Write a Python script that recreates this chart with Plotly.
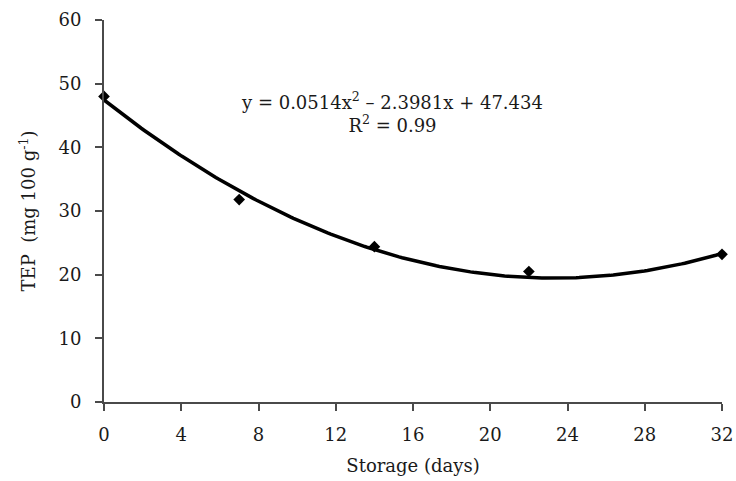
import numpy as np
import plotly.graph_objects as go

# Storage time (days) and measured TEP (mg 100 g-1)
storage_days = [0, 7, 14, 22, 32]
tep_values = [48.0, 31.8, 24.4, 20.5, 23.2]

# Quadratic trend coefficients: y = a*x^2 + b*x + c
coef_a = 0.0514
coef_b = -2.3981
coef_c = 47.434
r_squared = 0.99

x_ticks = [0, 4, 8, 12, 16, 20, 24, 28, 32]
y_ticks = [0, 10, 20, 30, 40, 50, 60]

font_family = "DejaVu Serif, Liberation Serif, serif"
text_color = "#1a1a1a"

x_fit = np.linspace(min(storage_days), max(storage_days), 200)
y_fit = coef_a * x_fit**2 + coef_b * x_fit + coef_c

fig = go.Figure()
fig.add_trace(go.Scatter(
    x=x_fit, y=y_fit, mode="lines",
    line=dict(color="black", width=3.5),
    showlegend=False, hoverinfo="skip", cliponaxis=False,
))
fig.add_trace(go.Scatter(
    x=storage_days, y=tep_values, mode="markers",
    marker=dict(symbol="diamond", size=9, color="black"),
    showlegend=False, cliponaxis=False,
))

fig.add_annotation(
    x=0.466, y=1.0, xref="paper", yref="paper",
    xanchor="center", yanchor="top", yshift=-67,
    text=(f"y = {coef_a}x<sup>2</sup> – {abs(coef_b)}x + {coef_c}"
          f"<br>R<sup>2</sup> = {r_squared}"),
    showarrow=False, align="center",
    font=dict(family=font_family, size=18, color=text_color),
)

axis_common = dict(
    showline=True, linecolor="#4a4a4a", linewidth=2,
    ticks="outside", ticklen=7, tickwidth=2, tickcolor="#4a4a4a",
    showgrid=False, zeroline=False, automargin=False,
    tickfont=dict(family=font_family, size=18, color=text_color),
)

fig.update_xaxes(
    range=[0, 32], tickvals=x_ticks, ticklabelstandoff=8,
    title=dict(text="Storage (days)", font=dict(family=font_family, size=18, color=text_color),
               standoff=16),
    **axis_common,
)
fig.update_yaxes(
    range=[0, 60], tickvals=y_ticks, ticklabelstandoff=10,
    title=dict(text="TEP  (mg 100 g<sup>-1</sup>)",
               font=dict(family=font_family, size=18, color=text_color), standoff=18),
    **axis_common,
)

fig.update_layout(
    width=736, height=481,
    margin=dict(l=104, r=14, t=20, b=79),
    plot_bgcolor="white", paper_bgcolor="white",
)

fig.write_html("out.html")
